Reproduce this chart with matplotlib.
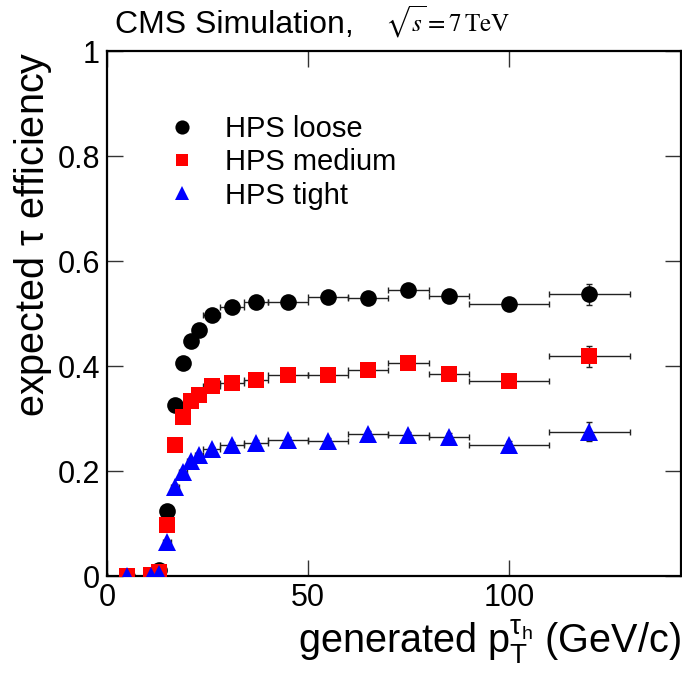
import matplotlib
matplotlib.use("Agg")
import matplotlib.pyplot as plt
from matplotlib.lines import Line2D

plt.rcParams['font.family'] = ['Liberation Sans', 'DejaVu Sans']
plt.rcParams['mathtext.fontset'] = 'custom'
plt.rcParams['mathtext.rm'] = 'Liberation Sans'
plt.rcParams['mathtext.it'] = 'Liberation Sans'
plt.rcParams['mathtext.bf'] = 'Liberation Sans:bold'

# generated pT bins (centre and half width, GeV/c)
pt_center = [5, 11, 13, 15, 17, 19, 21, 23, 26, 31, 37, 45, 55, 65, 75, 85, 100, 120]
pt_halfwidth = [5, 1, 1, 1, 1, 1, 1, 1, 2, 3, 3, 5, 5, 5, 5, 5, 10, 10]

eff_loose = [0.0, 0.002, 0.012, 0.124, 0.326, 0.406, 0.448, 0.469, 0.497, 0.512, 0.522,
             0.522, 0.532, 0.529, 0.545, 0.533, 0.519, 0.537]
eff_medium = [0.0, 0.002, 0.008, 0.098, 0.250, 0.302, 0.334, 0.345, 0.362, 0.367, 0.373,
              0.383, 0.382, 0.392, 0.405, 0.385, 0.372, 0.419]
eff_tight = [0.0, 0.0, 0.003, 0.065, 0.170, 0.199, 0.220, 0.230, 0.241, 0.250, 0.254,
             0.259, 0.258, 0.270, 0.268, 0.265, 0.250, 0.275]

err_loose = [0.0, 0.001, 0.002, 0.005, 0.006, 0.006, 0.006, 0.006, 0.005, 0.005, 0.005,
             0.005, 0.006, 0.007, 0.008, 0.009, 0.009, 0.020]
err_medium = [0.0, 0.001, 0.002, 0.005, 0.006, 0.006, 0.006, 0.006, 0.005, 0.005, 0.005,
              0.005, 0.006, 0.007, 0.008, 0.009, 0.009, 0.020]
err_tight = [0.0, 0.0, 0.001, 0.004, 0.005, 0.005, 0.005, 0.005, 0.005, 0.005, 0.005,
             0.005, 0.005, 0.006, 0.007, 0.008, 0.008, 0.018]

series = [
    ("HPS loose", eff_loose, err_loose, 'o', 'black', 12),
    ("HPS medium", eff_medium, err_medium, 's', '#ff0000', 11),
    ("HPS tight", eff_tight, err_tight, '^', '#0000ff', 12.5),
]

fig = plt.figure(figsize=(6.82, 6.82), dpi=100)
ax = fig.add_axes([0.1569, 0.1554, 0.8411, 0.7698])

handles = []
for label, eff, err, marker, color, ms in series:
    ax.errorbar(pt_center, eff, xerr=pt_halfwidth, yerr=err, fmt='none',
                ecolor='#222222', elinewidth=1.0, capsize=2.5, capthick=1.0, zorder=2)
    ax.plot(pt_center, eff, linestyle='none', marker=marker, color=color,
            markersize=ms, markeredgewidth=0, zorder=3)
    handles.append(Line2D([], [], linestyle='none', marker=marker, color=color,
                          markersize=ms * 0.85, markeredgewidth=0, label=label))

ax.set_xlim(0, 142.7)
ax.set_ylim(0, 1)
ax.set_xticks([0, 50, 100])
ax.set_yticks([0, 0.2, 0.4, 0.6, 0.8, 1])
ax.set_yticklabels(['0', '0.2', '0.4', '0.6', '0.8', '1'])
ax.tick_params(direction='in', length=11.5, width=1.0, labelsize=22, color='#333333',
               top=True, right=True, pad=5)
for s in ax.spines.values():
    s.set_linewidth(1.6)
    s.set_color('black')

ax.set_ylabel(r'expected $\mathregular{\tau}$ efficiency', fontsize=28.5, loc='top')
ax.yaxis.set_label_coords(-0.093, 1.0)
ax.set_xlabel(r'generated $\mathregular{p_{T}^{\tau_{h}}}$ (GeV/c)', fontsize=28.5, loc='right')
ax.xaxis.set_label_coords(1.0, -0.078)

ax.legend(handles=handles, loc='upper left', bbox_to_anchor=(0.106, 0.878),
          frameon=False, fontsize=21, handlelength=1.0, handletextpad=0.95,
          labelspacing=0.18, borderpad=0, borderaxespad=0)

fig.text(115 / 682, 1 - 33 / 682, 'CMS Simulation,', fontsize=23, va='baseline', ha='left')
fig.text(385 / 682, 1 - 32 / 682, r'$\sqrt{s} = 7\,\mathrm{TeV}$', fontsize=18,
         va='baseline', ha='left', math_fontfamily='stix')

fig.savefig('out.png', dpi=100)
